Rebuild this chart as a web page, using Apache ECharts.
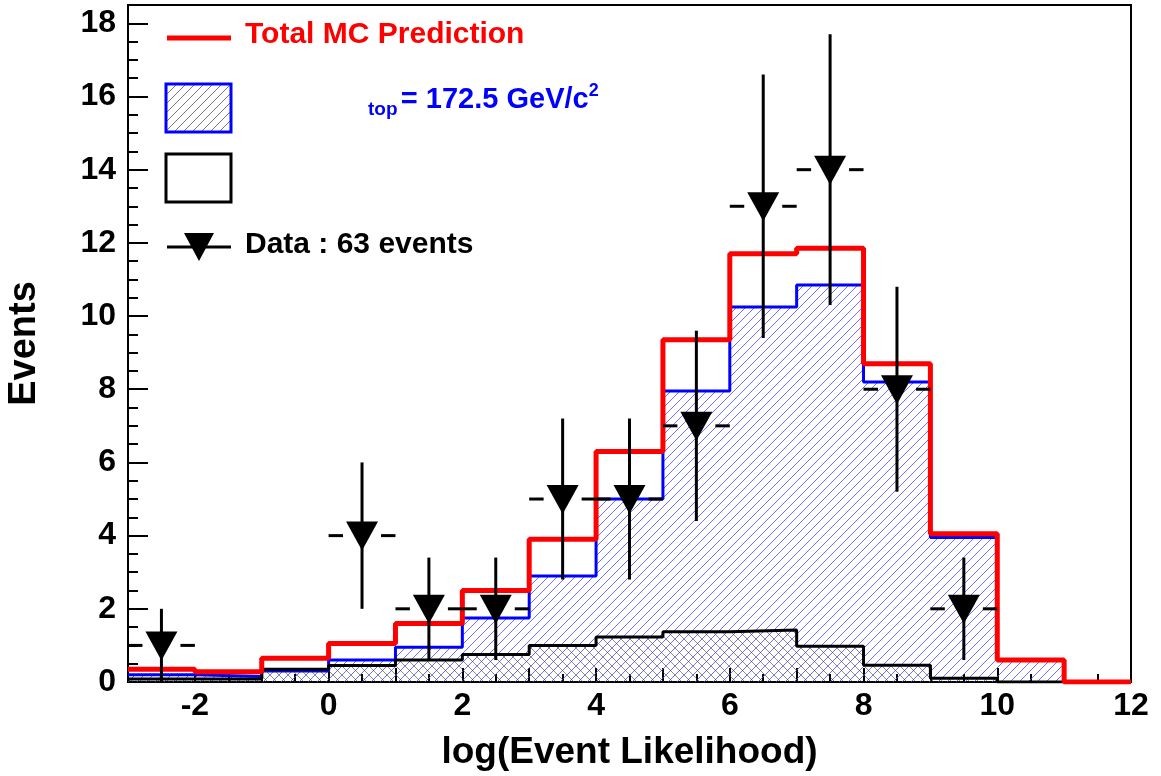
<!DOCTYPE html>
<html><head><meta charset="utf-8">
<script src="https://cdn.jsdelivr.net/npm/echarts@6/dist/echarts.min.js"></script>
<style>html,body{margin:0;background:#fff}#c{width:1161px;height:776px}</style>
</head><body><div id="c"></div>
<script>
// bin left edges and contents
const binEdges = [-3,-2,-1,0,1,2,3,4,5,6,7,8,9,10,11,12]
const totalMC = [0.35,0.28,0.65,1.05,1.6,2.5,3.9,6.3,9.35,11.7,11.85,8.7,4.05,0.6,0]
const signal  = [0.2,0.15,0.3,0.6,0.95,1.75,2.9,5.0,7.95,10.25,10.85,8.2,3.95,0.6,0]
const backgr  = [0.08,0.08,0.35,0.45,0.6,0.75,1.0,1.23,1.37,1.42,0.98,0.46,0.1,0,0]
const dataX  = [-2.5,0.5,1.5,2.5,3.5,4.5,5.5,6.5,7.5,8.5,9.5]
const dataY  = [1,4,2,2,5,5,7,13,14,8,2]
const dataLo = [0,2,0.6,0.6,2.8,2.8,4.4,9.4,10.3,5.2,0.6]
const dataHi = [2,6,3.4,3.4,7.2,7.2,9.6,16.6,17.7,10.8,3.4]

function steps(vals) {
  const out = vals.map((v, i) => [binEdges[i], v])
  out.push([binEdges[binEdges.length - 1], vals[vals.length - 1]])
  return out
}
function hatch(color, dir) {
  const c = document.createElement('canvas')
  c.width = 9; c.height = 9
  const g = c.getContext('2d')
  g.strokeStyle = color; g.lineWidth = 0.8
  g.beginPath()
  if (dir > 0) { g.moveTo(0, 9); g.lineTo(9, 0); g.moveTo(-1, 1); g.lineTo(1, -1); g.moveTo(8, 10); g.lineTo(10, 8) }
  else { g.moveTo(0, 0); g.lineTo(9, 9); g.moveTo(-1, 8); g.lineTo(1, 10); g.moveTo(8, -1); g.lineTo(10, 1) }
  g.stroke()
  return c
}
const font = 'Liberation Sans, Arial, sans-serif'
const chart = echarts.init(document.getElementById('c'))
const pts = dataX.map((x, i) => [x, dataY[i], dataLo[i], dataHi[i]])
chart.setOption({
  animation: false,
  grid: { left: 128, right: 30, top: 5, bottom: 94, show: true, borderColor: '#000', borderWidth: 2,
    containLabel: false, outerBoundsMode: 'none' },
  xAxis: {
    type: 'value', min: -3, max: 12, interval: 1,
    name: 'log(Event Likelihood)', nameLocation: 'middle', nameGap: 52,
    nameTextStyle: { fontFamily: font, fontWeight: 'bold', fontSize: 37, color: '#000' },
    axisLine: { onZero: false, lineStyle: { color: '#000', width: 2 } },
    axisTick: { inside: true, length: 14, lineStyle: { color: '#000', width: 2 } },
    minorTick: { show: true, splitNumber: 2, length: 8, lineStyle: { color: '#000', width: 2 } },
    axisLabel: { fontFamily: font, fontWeight: 'bold', fontSize: 32, color: '#000', margin: 8,
      formatter: v => (v % 2 === 0 ? String(v) : '') },
    splitLine: { show: false }
  },
  yAxis: {
    type: 'value', min: 0, max: 18.5, interval: 2,
    name: 'Events', nameLocation: 'middle', nameGap: 84,
    nameTextStyle: { fontFamily: font, fontWeight: 'bold', fontSize: 38, color: '#000' },
    axisLine: { onZero: false, lineStyle: { color: '#000', width: 2 } },
    axisTick: { inside: true, length: 20, lineStyle: { color: '#000', width: 2 } },
    minorTick: { show: true, splitNumber: 4, length: 10, lineStyle: { color: '#000', width: 2 } },
    axisLabel: { fontFamily: font, fontWeight: 'bold', fontSize: 32, color: '#000', margin: 12,
      showMaxLabel: false },
    splitLine: { show: false }
  },
  series: [
    { type: 'line', step: 'end', symbol: 'none', data: steps(signal), z: 2,
      lineStyle: { color: '#0000ff', width: 3 },
      areaStyle: { color: { image: hatch('#4d4dff', 1), repeat: 'repeat' }, opacity: 1 } },
    { type: 'line', step: 'end', symbol: 'none', data: steps(backgr), z: 3,
      lineStyle: { color: '#000', width: 3 },
      areaStyle: { color: { image: hatch('#333', -1), repeat: 'repeat' }, opacity: 0.7 } },
    { type: 'line', step: 'end', symbol: 'none', data: steps(totalMC), z: 4,
      lineStyle: { color: '#ff0000', width: 5 } },
    { type: 'custom', z: 5, data: pts,
      renderItem: (params, api) => {
        const c = api.coord([api.value(0), api.value(1)])
        const lo = api.coord([api.value(0), api.value(2)])
        const hi = api.coord([api.value(0), api.value(3)])
        const l = api.coord([api.value(0) - 0.5, api.value(1)])
        const r = api.coord([api.value(0) + 0.5, api.value(1)])
        const st = { stroke: '#000', lineWidth: 3 }
        return { type: 'group', children: [
          { type: 'line', shape: { x1: c[0], y1: lo[1], x2: c[0], y2: hi[1] }, style: st },
          { type: 'line', shape: { x1: l[0], y1: c[1], x2: c[0] - 19, y2: c[1] }, style: st },
          { type: 'line', shape: { x1: c[0] + 19, y1: c[1], x2: r[0], y2: c[1] }, style: st },
          { type: 'polygon', shape: { points: [[c[0] - 16, c[1] - 14], [c[0] + 16, c[1] - 14], [c[0], c[1] + 15]] },
            style: { fill: '#000' } }
        ] }
      } }
  ],
  graphic: [
    { type: 'line', shape: { x1: 167, y1: 38, x2: 231, y2: 38 }, style: { stroke: '#ff0000', lineWidth: 5 } },
    { type: 'text', left: 245, top: 20, style: { text: 'Total MC Prediction', fill: '#ff0000', font: 'bold 30px ' + font } },
    { type: 'rect', shape: { x: 166, y: 84, width: 65, height: 48 },
      style: { fill: { image: hatch('#555', 1), repeat: 'repeat' }, stroke: '#0000ff', lineWidth: 3 } },
    { type: 'rect', shape: { x: 166, y: 154, width: 65, height: 48 }, style: { fill: '#fff', stroke: '#000', lineWidth: 3 } },
    { type: 'text', left: 368, top: 82, style: {
      text: '{s|top} {n|= 172.5 GeV/c}{p|2}',
      rich: { s: { fill: '#0000ff', font: 'bold 19px ' + font, padding: [20, 0, 0, 0] },
              n: { fill: '#0000ff', font: 'bold 29px ' + font },
              p: { fill: '#0000ff', font: 'bold 18px ' + font, padding: [0, 0, 18, 0] } } } },
    { type: 'line', shape: { x1: 167, y1: 247, x2: 231, y2: 247 }, style: { stroke: '#000', lineWidth: 3 } },
    { type: 'polygon', shape: { points: [[184, 233], [214, 233], [199, 261]] }, style: { fill: '#000' } },
    { type: 'text', left: 245, top: 230, style: { text: 'Data : 63 events', fill: '#000', font: 'bold 30px ' + font } }
  ]
})
</script></body></html>
